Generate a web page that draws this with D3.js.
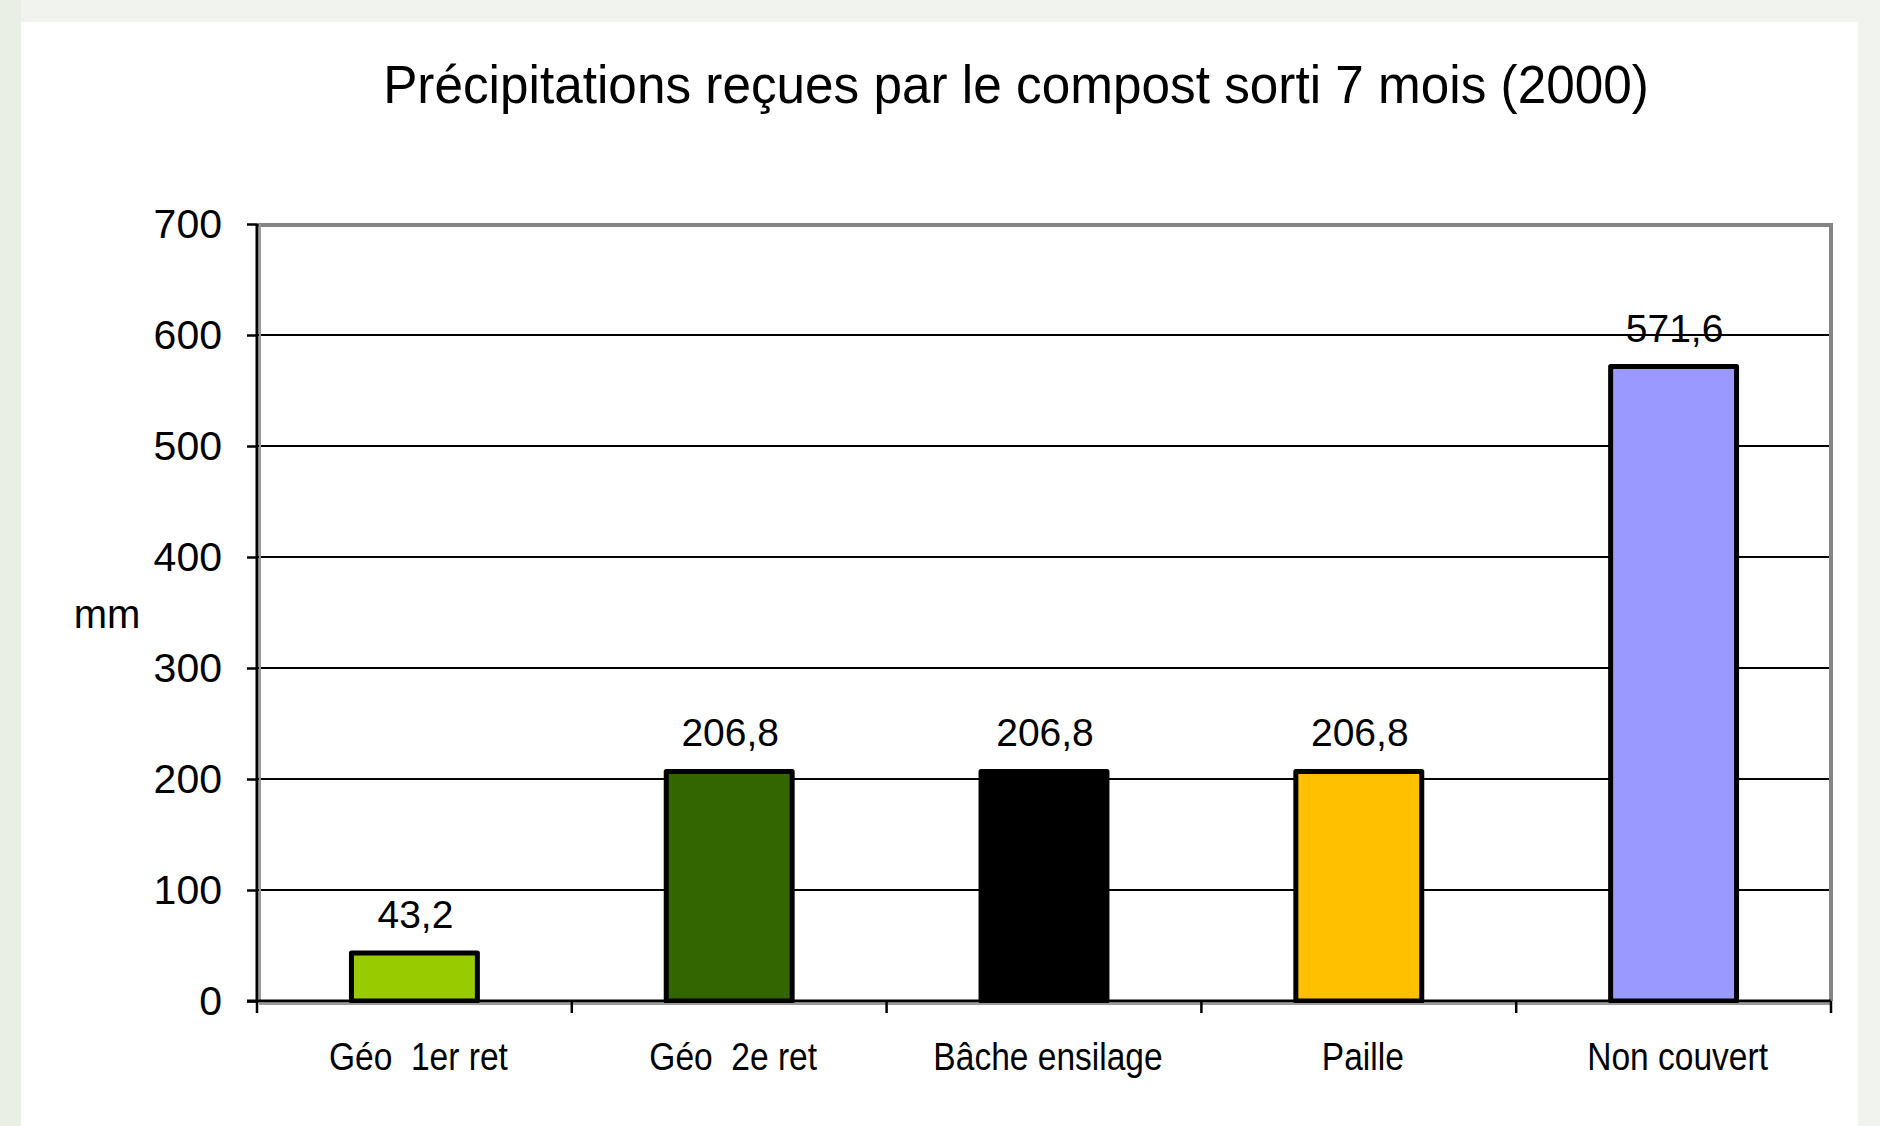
<!DOCTYPE html>
<html>
<head>
<meta charset="utf-8">
<script src="https://cdn.jsdelivr.net/npm/d3@7"></script>
<style>
  html, body { margin: 0; padding: 0; background: #f1f3ef; }
  svg { display: block; }
  text { font-family: "Liberation Sans", Arial, sans-serif; fill: #000; }
</style>
</head>
<body>
<script>
const categories = ["Géo  1er ret", "Géo  2e ret", "Bâche ensilage", "Paille", "Non couvert"];
const values = [43.2, 206.8, 206.8, 206.8, 571.6];
const valueLabels = ["43,2", "206,8", "206,8", "206,8", "571,6"];
const barColors = ["#99CC00", "#336600", "#000000", "#FFC000", "#9999FF"];
const yTicks = [0, 100, 200, 300, 400, 500, 600, 700];
const titleText = "Précipitations reçues par le compost sorti 7 mois (2000)";
const yAxisLabel = "mm";

const W = 1880, H = 1126;
const plot = { left: 257, right: 1831, top: 224, bottom: 1001 };

const svg = d3.select("body").append("svg").attr("width", W).attr("height", H);

// background panel
svg.append("rect").attr("x", 0).attr("y", 0).attr("width", W).attr("height", H).attr("fill", "#f1f3ef");
svg.append("rect").attr("x", 0).attr("y", 0).attr("width", 21).attr("height", H).attr("fill", "#e9efe5");
svg.append("rect").attr("x", 21).attr("y", 22).attr("width", 1837).attr("height", H - 22).attr("fill", "#ffffff");

const x = d3.scaleBand().domain(categories).range([plot.left, plot.right]).paddingInner(0.6).paddingOuter(0.3);
const xStep = (plot.right - plot.left) / categories.length;
const y = d3.scaleLinear().domain([0, 700]).range([plot.bottom, plot.top]);

// title
svg.append("text")
  .attr("transform", `translate(1016,103) scale(0.95,1)`)
  .attr("text-anchor", "middle")
  .style("font-size", "54px")
  .text(titleText);

// gridlines
svg.append("g").selectAll("line").data(yTicks.filter(d => d > 0 && d < 700)).join("line")
  .attr("x1", plot.left).attr("x2", plot.right)
  .attr("y1", d => y(d)).attr("y2", d => y(d))
  .attr("stroke", "#000").attr("stroke-width", 2);

// top and right border (gray)
svg.append("path")
  .attr("d", `M${plot.left},${y(700) + 1}H${plot.right}V${plot.bottom}`)
  .attr("fill", "none").attr("stroke", "#858585").attr("stroke-width", 4);

// bars
svg.append("g").selectAll("rect").data(values).join("rect")
  .attr("x", (d, i) => x(categories[i]))
  .attr("width", x.bandwidth())
  .attr("y", d => y(d))
  .attr("height", d => y(0) - y(d))
  .attr("fill", (d, i) => barColors[i])
  .attr("stroke", "#000").attr("stroke-width", 5).attr("stroke-linejoin", "round");

// value labels
svg.append("g").selectAll("text").data(values).join("text")
  .attr("x", (d, i) => x(categories[i]) + x.bandwidth() / 2 + 1)
  .attr("y", d => y(d) - 25)
  .attr("text-anchor", "middle")
  .style("font-size", "39px")
  .text((d, i) => valueLabels[i]);

// y axis shadow + axis
svg.append("line").attr("x1", plot.left + 3).attr("x2", plot.left + 3).attr("y1", plot.top).attr("y2", plot.bottom)
  .attr("stroke", "#9a9a9a").attr("stroke-width", 2);
svg.append("line").attr("x1", plot.left + 2).attr("x2", plot.right).attr("y1", plot.bottom + 3).attr("y2", plot.bottom + 3)
  .attr("stroke", "#9a9a9a").attr("stroke-width", 2);

const yAxis = d3.axisLeft(y).tickValues(yTicks).tickSize(10).tickPadding(25).tickFormat(d3.format("d"));
const gy = svg.append("g").attr("transform", `translate(${plot.left},0)`).call(yAxis);
gy.select(".domain").attr("stroke", "#000").attr("stroke-width", 3).attr("d", `M0,${plot.top}V${plot.bottom}`);
gy.selectAll(".tick line").attr("stroke", "#000").attr("stroke-width", 2.5);
gy.selectAll(".tick text").style("font-size", "41px").style("font-family", "'Liberation Sans', Arial, sans-serif").attr("fill", "#000");

// x axis
const bounds = d3.range(categories.length + 1).map(i => plot.left + i * xStep);
svg.append("line").attr("x1", plot.left - 10).attr("x2", plot.right).attr("y1", plot.bottom).attr("y2", plot.bottom)
  .attr("stroke", "#000").attr("stroke-width", 3);
svg.append("g").selectAll("line").data(bounds).join("line")
  .attr("x1", d => d).attr("x2", d => d)
  .attr("y1", plot.bottom).attr("y2", plot.bottom + 12)
  .attr("stroke", "#000").attr("stroke-width", 2.5);

svg.append("g").selectAll("text").data(categories).join("text")
  .attr("transform", d => `translate(${x(d) + x.bandwidth() / 2 + 4},1070) scale(0.86,1)`)
  .attr("text-anchor", "middle")
  .style("font-size", "39px")
  .style("white-space", "pre")
  .attr("xml:space", "preserve")
  .text(d => d);

// y axis label
svg.append("text")
  .attr("x", 107).attr("y", 628)
  .attr("text-anchor", "middle")
  .style("font-size", "40px")
  .text(yAxisLabel);
</script>
</body>
</html>
